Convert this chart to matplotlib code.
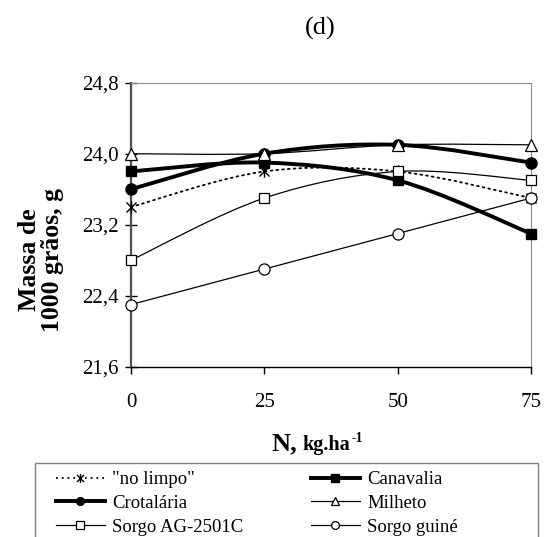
import matplotlib
matplotlib.use('Agg')
import matplotlib.pyplot as plt
from matplotlib.path import Path
from matplotlib.patches import PathPatch, Rectangle
from matplotlib.lines import Line2D
from matplotlib.ticker import FixedLocator, FuncFormatter
import numpy as np

# ---- data ----
n_doses = [0, 25, 50, 75]
no_limpo = [23.4, 23.8, 23.8, 23.5]
canavalia = [23.8, 23.9, 23.7, 23.1]
crotalaria = [23.6, 24.0, 24.1, 23.9]
milheto = [24.0, 24.0, 24.1, 24.1]
sorgo_ag = [22.8, 23.5, 23.8, 23.7]
sorgo_guine = [22.3, 22.7, 23.1, 23.5]
series_names = ['"no limpo"', 'Canavalia', 'Crotalária', 'Milheto', 'Sorgo AG-2501C', 'Sorgo guiné']
y_ticks = [21.6, 22.4, 23.2, 24.0, 24.8]
x_ticks = [0, 25, 50, 75]

plt.rcParams['font.family'] = ['Liberation Serif', 'DejaVu Serif']

W, H = 546, 537
fig = plt.figure(figsize=(W / 100, H / 100), dpi=100)
fig.patch.set_facecolor('white')


def fx(px):
    return px / W


def fy(px):
    return 1 - px / H


ax = fig.add_axes([fx(131), fy(366.7), fx(531) - fx(131), fy(82.7) - fy(366.7)])
ax.set_xlim(0, 75)
ax.set_ylim(21.6, 24.8)


def smooth_path(x, y):
    pts = np.column_stack([x, y]).astype(float)
    ext = np.vstack([pts[0], pts, pts[-1]])
    verts = [pts[0]]
    codes = [Path.MOVETO]
    for i in range(len(pts) - 1):
        p0, p1, p2, p3 = ext[i], ext[i + 1], ext[i + 2], ext[i + 3]
        c1 = p1 + (p2 - p0) / 6.0
        c2 = p2 - (p3 - p1) / 6.0
        verts += [c1, c2, p2]
        codes += [Path.CURVE4] * 3
    return Path(verts, codes)


# Excel-like "star" marker: an x with a vertical bar
star = Path([(-1, -1), (1, 1), (-1, 1), (1, -1), (0, -1.25), (0, 1.25)],
            [Path.MOVETO, Path.LINETO, Path.MOVETO, Path.LINETO, Path.MOVETO, Path.LINETO])

styles = [
    (no_limpo, dict(lw=1.3, ls=(0, (1.0, 2.2))), dict(marker=star, ms=9, mfc='none', mew=1.0)),
    (canavalia, dict(lw=2.8, ls='-'), dict(marker='s', ms=7.5, mfc='black', mew=1.0)),
    (crotalaria, dict(lw=2.8, ls='-'), dict(marker='o', ms=8, mfc='black', mew=1.0)),
    (milheto, dict(lw=0.9, ls='-'), dict(marker='^', ms=8, mfc='white', mew=0.9)),
    (sorgo_ag, dict(lw=0.9, ls='-'), dict(marker='s', ms=7.5, mfc='white', mew=0.9)),
    (sorgo_guine, dict(lw=0.9, ls='-'), dict(marker='o', ms=8, mfc='white', mew=0.9)),
]

handles = []
for (vals, lstyle, mstyle), name in zip(styles, series_names):
    patch = PathPatch(smooth_path(n_doses, vals), fill=False, ec='black',
                      lw=lstyle['lw'], ls=lstyle['ls'], zorder=2, clip_on=False,
                      capstyle='round' if lstyle['ls'] != '-' else 'butt')
    ax.add_patch(patch)
    ax.plot(n_doses, vals, ls='none', color='black', mec='black', zorder=3,
            clip_on=False, **mstyle)
    hms = dict(mstyle)
    hms['ms'] = mstyle['ms'] * 0.7
    handles.append(Line2D([], [], color='black', lw=lstyle['lw'], ls=lstyle['ls'],
                          mec='black', **hms))

# axes styling
for side in ['top', 'right']:
    ax.spines[side].set_color('#8c8c8c')
    ax.spines[side].set_linewidth(0.8)
ax.spines['left'].set_color('#505050')
ax.spines['left'].set_linewidth(1.6)
ax.spines['bottom'].set_color('black')
ax.spines['bottom'].set_linewidth(1.0)

ax.yaxis.set_major_locator(FixedLocator(y_ticks))
ax.yaxis.set_major_formatter(FuncFormatter(lambda v, p: f'{v:.1f}'.replace('.', ',')))
ax.xaxis.set_major_locator(FixedLocator(x_ticks))
ax.xaxis.set_major_formatter(FuncFormatter(lambda v, p: f'{v:.0f}'))
ax.tick_params(axis='y', direction='inout', length=8, width=1.0, color='black',
               labelsize=15, pad=5)
ax.tick_params(axis='x', direction='out', length=5, width=1.0, color='black',
               labelsize=15, pad=14)

# title
fig.text(fx(320), fy(28), '(d)', ha='center', va='center', fontsize=19)

# y label
fig.text(fx(41), fy(260), 'Massa de\n1000 grãos, g', rotation=90, ha='center',
         va='center', fontsize=18.5, fontweight='bold', multialignment='center',
         linespacing=1.05)

# x label: large "N," followed by smaller "kg.ha" with a superscript "-1"
renderer = fig.canvas.get_renderer()
t_n = fig.text(fx(272), fy(450), 'N,', ha='left', va='baseline', fontsize=19,
               fontweight='bold')
x_end = t_n.get_window_extent(renderer).x1
t_kg = fig.text((x_end + 5) / W, fy(450), 'kg.ha', ha='left', va='baseline',
                fontsize=14.5, fontweight='bold')
x_end = t_kg.get_window_extent(renderer).x1
fig.text((x_end + 0.5) / W, fy(442), '-1', ha='left', va='baseline', fontsize=10,
         fontweight='bold')

# legend frame (cut off by the bottom of the figure)
fig.patches.append(Rectangle((fx(35), -0.05), fx(538) - fx(35), fy(463) + 0.05,
                             transform=fig.transFigure, fill=False, ec='#808080',
                             lw=1.0, zorder=5))

order = [0, 2, 4, 1, 3, 5]
leg = fig.legend([handles[i] for i in order], [series_names[i] for i in order],
                 loc='upper left', bbox_to_anchor=(fx(56), fy(471)), ncol=2,
                 frameon=False, fontsize=13.5, handlelength=2.6, handletextpad=0.4,
                 columnspacing=3.6, labelspacing=0.36, borderpad=0, borderaxespad=0)

fig.savefig('out.png', dpi=100, facecolor='white')
